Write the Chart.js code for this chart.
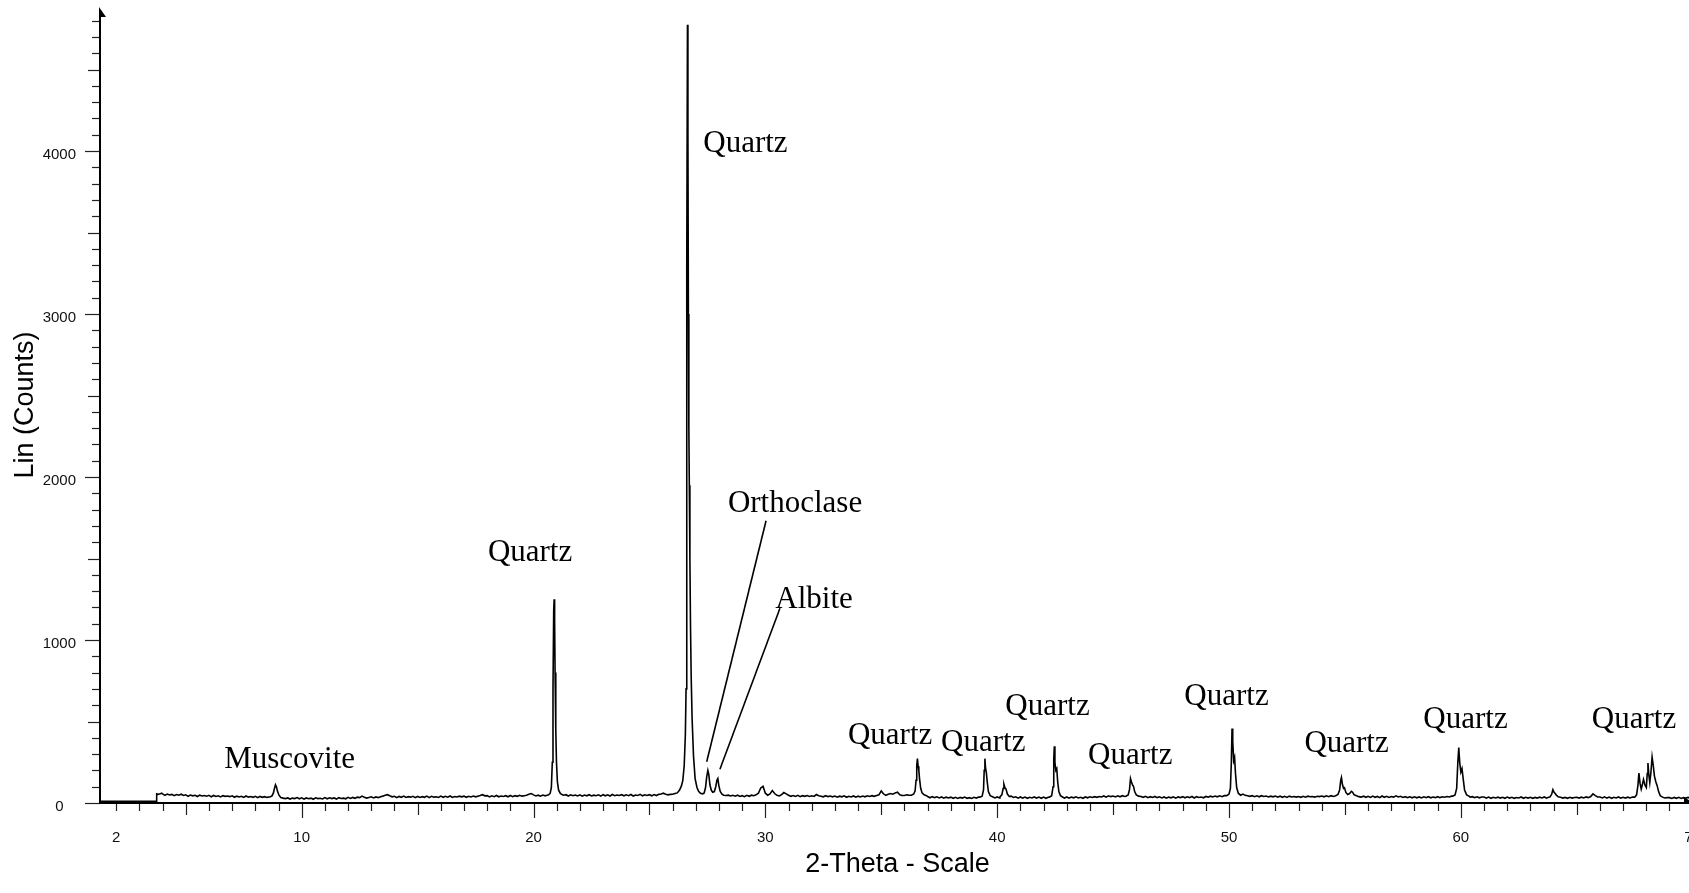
<!DOCTYPE html>
<html>
<head>
<meta charset="utf-8">
<title>XRD pattern</title>
<script src="https://cdn.jsdelivr.net/npm/chart.js@4.4.1/dist/chart.umd.min.js"></script>
<style>
  html, body { margin: 0; padding: 0; background: #ffffff; overflow: hidden; }
  #wrap { position: relative; width: 1710px; height: 893px; }
</style>
</head>
<body>
<div id="wrap"><canvas id="xrd"></canvas></div>
<script>
// ---- Scan data: 2-theta (deg) vs intensity (counts) ----
const BG_STEP = 0.1;

// slit shadow before the detector opens
const leadIn = [[1.3, 10], [3.72, 10], [3.745, 56], [3.8, 53], [3.9, 57], [3.96, 60]];

// background counts, one row per degree, 0.1 deg apart
const bg04to20 = [
  56,47,55,49,53,45,52,48,54,46,
  50,41,49,44,47,40,48,43,46,42,
  47,38,46,40,44,37,45,41,43,39,
  44,35,42,37,41,34,43,36,40,35,
  41,33,40,35,39,34,38,35,37,34,
  33,25,32,27,31,24,30,27,33,26,
  32,24,31,26,30,23,32,27,29,25,
  33,26,32,27,31,24,33,28,30,26,
  35,28,34,29,36,33,42,35,30,34,
  38,31,37,33,39,42,47,51,44,38,
  41,33,40,35,42,34,39,36,41,33,
  40,34,39,35,42,33,41,36,38,34,
  42,35,41,36,43,34,40,37,42,38,
  42,35,41,37,43,38,42,46,51,44,
  45,37,44,39,46,38,43,40,45,38,
  46,39,45,41,47,42,45,48,53,58
];
const bg20to37 = [
  50,43,48,42,49,44,48,52,60,90,
  62,52,49,44,51,43,50,45,49,43,
  50,42,49,44,51,43,48,45,50,42,
  51,44,50,43,52,45,49,46,51,44,
  50,45,52,43,49,46,53,44,50,46,
  51,44,52,46,53,55,60,54,50,53,
  54,58,62,70,90,150,300,200,90,70,
  60,55,52,50,55,90,60,50,48,55,
  60,52,46,41,48,43,47,42,48,40,
  45,39,47,41,48,45,50,60,92,102,
  60,48,56,76,58,47,43,51,64,56,
  48,41,46,40,47,39,45,41,46,40,
  44,40,52,45,42,38,45,39,43,38,
  43,36,42,38,44,35,41,37,43,36,
  42,37,43,38,44,40,45,41,46,50,
  74,56,47,53,58,54,62,66,51,46,
  46,50,48,52,58,70,150,150,60,45
];
const bg37to54 = [
  40,32,39,33,38,31,37,30,36,31,
  36,29,35,28,34,30,36,29,33,28,
  35,30,36,31,42,200,150,50,38,31,
  37,31,40,60,100,70,42,34,38,30,
  37,30,36,29,35,31,37,30,36,29,
  36,29,35,31,40,300,200,45,37,30,
  37,30,36,32,38,31,35,29,37,32,
  38,34,39,35,40,37,43,36,44,39,
  43,37,44,38,45,40,60,140,80,45,
  44,36,40,35,41,33,39,34,40,33,
  38,31,37,30,36,32,38,30,37,33,
  39,32,38,33,40,31,39,34,37,32,
  40,36,42,37,43,38,44,39,45,41,
  47,43,150,450,280,90,55,47,44,41,
  45,39,44,38,45,40,43,37,42,38,
  43,36,42,35,41,34,42,37,40,36,
  40,35,41,36,42,38,40,36,41,39
];
const bg54to70 = [
  43,38,44,39,45,40,46,80,150,95,
  55,50,60,72,55,42,39,36,42,35,
  41,34,42,35,40,33,43,35,41,34,
  40,36,44,37,41,34,39,33,38,32,
  38,32,37,31,38,33,39,32,37,33,
  39,33,38,35,40,37,42,50,100,340,
  210,100,50,41,36,39,33,38,32,37,
  37,30,36,29,35,31,36,30,35,29,
  36,30,35,29,34,31,37,29,35,30,
  35,29,34,30,36,31,37,30,36,60,
  80,55,42,35,30,34,29,35,30,34,
  35,30,36,31,37,33,40,56,45,37,
  37,31,38,30,36,29,35,31,37,30,
  35,30,36,31,37,34,45,120,100,140,
  100,240,130,280,160,100,45,36,31,34,
  33,28,34,29,35,28,33,30,34,29
];
const tailOut = [[70.0, 33], [70.1, 30]];

// reflections, sampled finer: [2-theta, counts]
const muscovitePeak = [[8.55,36],[8.65,38],[8.72,44],[8.78,62],[8.83,92],[8.87,112],[8.91,100],[8.96,70],[9.02,48],[9.1,34],[9.2,30]];
const quartz100Peak = [[20.55,46],[20.65,50],[20.72,60],[20.77,95],[20.81,250],[20.84,700],[20.87,1180],[20.89,1250],[20.91,1120],[20.93,800],[20.96,450],[20.99,250],[21.03,130],[21.08,80],[21.15,60],[21.22,52],[21.3,48]];
const quartz101Peak = [[26.1,58],[26.2,62],[26.3,80],[26.38,105],[26.44,139],[26.5,230],[26.55,420],[26.58,700],[26.6,1500],[26.62,3300],[26.64,4775],[26.66,4100],[26.68,3000],[26.7,2300],[26.72,1950],[26.745,1500],[26.77,1100],[26.8,780],[26.84,520],[26.9,290],[26.97,150],[27.05,95],[27.12,72],[27.2,60],[27.3,56]];
const feldsparPeaks = [[27.36,62],[27.42,95],[27.47,160],[27.52,200],[27.56,175],[27.61,110],[27.67,78],[27.73,66],[27.8,70],[27.86,100],[27.91,140],[27.95,150],[27.99,110],[28.05,72],[28.12,56],[28.2,48],[28.3,46]];
const quartz110Peak = [[36.3,48],[36.4,55],[36.46,75],[36.5,140],[36.53,230],[36.56,272],[36.59,225],[36.62,200],[36.65,150],[36.7,90],[36.76,62],[36.85,50],[36.95,45]];
const quartz102Peak = [[39.25,36],[39.35,42],[39.41,80],[39.44,200],[39.47,272],[39.5,210],[39.53,190],[39.57,130],[39.62,70],[39.7,45],[39.8,38]];
const quartz111Peak = [[40.12,38],[40.2,50],[40.26,90],[40.29,115],[40.33,95],[40.38,85],[40.44,55],[40.52,40]];
const quartz200Peak = [[42.25,36],[42.35,45],[42.41,100],[42.44,270],[42.465,348],[42.49,250],[42.53,200],[42.57,211],[42.61,130],[42.66,70],[42.73,45],[42.82,37]];
const quartz201Peak = [[45.55,42],[45.65,50],[45.71,85],[45.75,150],[45.79,130],[45.84,110],[45.88,102],[45.93,70],[46.0,50],[46.1,42]];
const quartz112Peak = [[49.9,45],[50.0,55],[50.06,90],[50.1,250],[50.13,457],[50.16,380],[50.2,260],[50.24,280],[50.28,180],[50.33,95],[50.4,60],[50.5,48]];
const quartz202Peak = [[54.6,45],[54.7,52],[54.77,80],[54.82,140],[54.85,156],[54.89,115],[54.94,90],[54.98,94],[55.04,65],[55.12,52],[55.2,58],[55.28,72],[55.33,66],[55.4,50],[55.5,44]];
const quartz211Peak = [[59.65,42],[59.75,50],[59.82,90],[59.87,250],[59.91,340],[59.95,250],[60.0,190],[60.05,211],[60.1,150],[60.16,80],[60.25,50],[60.35,42]];
const quartz113Peak = [[63.85,38],[63.92,55],[63.97,82],[64.02,65],[64.07,58],[64.12,48],[64.2,38]];
const quartz212Peaks = [[67.5,36],[67.58,50],[67.64,110],[67.68,184],[67.73,120],[67.78,85],[67.84,120],[67.88,145],[67.94,110],[68.0,95],[68.04,180],[68.07,245],[68.11,170],[68.15,125],[68.2,190],[68.25,282],[68.3,230],[68.35,165],[68.41,130],[68.47,105],[68.53,70],[68.6,45],[68.7,36]];

// axis tick labels
const xLabelValues = [2, 10, 20, 30, 40, 50, 60, 70];
const yLabelValues = [0, 1000, 2000, 3000, 4000];

// phase labels: text, anchor [2-theta, counts] (centre / baseline)
const phaseLabels = [
  { text: 'Muscovite',  at: [9.48, 215] },
  { text: 'Quartz',     at: [19.85, 1485] },
  { text: 'Quartz',     at: [29.14, 3994] },
  { text: 'Orthoclase', at: [31.28, 1786] },
  { text: 'Albite',     at: [32.10, 1196] },
  { text: 'Quartz',     at: [35.38, 362] },
  { text: 'Quartz',     at: [39.40, 319] },
  { text: 'Quartz',     at: [42.17, 540] },
  { text: 'Quartz',     at: [45.74, 239] },
  { text: 'Quartz',     at: [49.89, 601] },
  { text: 'Quartz',     at: [55.07, 313] },
  { text: 'Quartz',     at: [60.20, 463] },
  { text: 'Quartz',     at: [67.47, 463] }
];
const leaderLines = [
  { from: [30.03, 1732], to: [27.47, 253] },
  { from: [30.63, 1195], to: [28.04, 207] }
];

// ---- assemble the scan ----
const peakSegments = [muscovitePeak, quartz100Peak, quartz101Peak, feldsparPeaks, quartz110Peak,
  quartz102Peak, quartz111Peak, quartz200Peak, quartz201Peak, quartz112Peak, quartz202Peak,
  quartz211Peak, quartz113Peak, quartz212Peaks];

function rowsToPoints(start, values) {
  return values.map((c, i) => ({ x: Math.round((start + i * BG_STEP) * 100) / 100, y: c }));
}
const background = [
  ...rowsToPoints(4, bg04to20), ...rowsToPoints(20, bg20to37),
  ...rowsToPoints(37, bg37to54), ...rowsToPoints(54, bg54to70)
];
const insidePeak = p => peakSegments.some(seg => p.x >= seg[0][0] && p.x <= seg[seg.length - 1][0]);
const scan = [
  ...leadIn.map(([x, y]) => ({ x, y })),
  ...background.filter(p => !insidePeak(p)),
  ...peakSegments.flat().map(([x, y]) => ({ x, y })),
  ...tailOut.map(([x, y]) => ({ x, y }))
].sort((a, b) => a.x - b.x);

// ---- drawing helpers ----
const SANS = "'Liberation Sans', Arial, sans-serif";
const SERIF = "'Liberation Serif', 'Times New Roman', serif";

const axesWithArrows = {
  id: 'axesWithArrows',
  beforeDatasetsDraw(chart) {
    const { ctx, chartArea: a, scales: { x, y } } = chart;
    ctx.save();
    ctx.fillStyle = '#000';
    // tick marks: long every 10/1000, medium every 5/500, short otherwise
    ctx.lineWidth = 1.2;
    ctx.strokeStyle = '#222';
    for (let v = 0; v <= 4800; v += 100) {
      const len = v % 1000 === 0 ? 15 : (v % 500 === 0 ? 12 : 8);
      const py = Math.round(y.getPixelForValue(v)) + 0.5;
      ctx.beginPath(); ctx.moveTo(a.left - len, py); ctx.lineTo(a.left, py); ctx.stroke();
    }
    for (let d = 2; d <= 70; d++) {
      const len = d % 10 === 0 ? 15 : (d % 5 === 0 ? 12 : 8);
      const px = Math.round(x.getPixelForValue(d)) + 0.5;
      ctx.beginPath(); ctx.moveTo(px, a.bottom); ctx.lineTo(px, a.bottom + len); ctx.stroke();
    }
    // axis lines
    ctx.strokeStyle = '#000';
    ctx.lineWidth = 2;
    ctx.beginPath();
    ctx.moveTo(a.left, a.bottom); ctx.lineTo(a.left, a.top + 4);
    ctx.moveTo(a.left - 1, a.bottom); ctx.lineTo(a.right - 4, a.bottom);
    ctx.stroke();
    // half arrow heads
    ctx.beginPath();
    ctx.moveTo(a.left - 1, a.top); ctx.lineTo(a.left + 6, a.top + 10); ctx.lineTo(a.left - 1, a.top + 10);
    ctx.closePath(); ctx.fill();
    ctx.beginPath();
    ctx.moveTo(a.right, a.bottom + 1); ctx.lineTo(a.right - 11, a.bottom - 6); ctx.lineTo(a.right - 11, a.bottom + 1);
    ctx.closePath(); ctx.fill();
    ctx.restore();
  },
  afterDatasetsDraw(chart) {
    const { ctx, scales: { x, y } } = chart;
    ctx.save();
    ctx.strokeStyle = '#000';
    ctx.lineWidth = 1.6;
    leaderLines.forEach(l => {
      ctx.beginPath();
      ctx.moveTo(x.getPixelForValue(l.from[0]), y.getPixelForValue(l.from[1]));
      ctx.lineTo(x.getPixelForValue(l.to[0]), y.getPixelForValue(l.to[1]));
      ctx.stroke();
    });
    ctx.fillStyle = '#000';
    ctx.font = '31px ' + SERIF;
    ctx.textAlign = 'center';
    ctx.textBaseline = 'alphabetic';
    phaseLabels.forEach(lb => {
      ctx.fillText(lb.text, x.getPixelForValue(lb.at[0]), y.getPixelForValue(lb.at[1]));
    });
    ctx.restore();
  }
};

new Chart(document.getElementById('xrd'), {
  type: 'line',
  data: {
    datasets: [{
      data: scan,
      parsing: false,
      borderColor: '#000',
      borderWidth: 1.6,
      pointRadius: 0,
      tension: 0,
      fill: false
    }]
  },
  options: {
    responsive: true,
    maintainAspectRatio: false,
    animation: false,
    devicePixelRatio: 1,
    layout: { padding: { top: 7, right: 15, bottom: 0, left: 0 } },
    plugins: { legend: { display: false }, tooltip: { enabled: false } },
    scales: {
      x: {
        type: 'linear',
        min: 1.3,
        max: 70.1,
        grid: { display: false, drawTicks: false },
        border: { display: false },
        afterBuildTicks: s => { s.ticks = xLabelValues.map(v => ({ value: v })); },
        afterFit: s => { s.height = 90; s.paddingLeft = 0; s.paddingRight = 0; },
        ticks: {
          autoSkip: false, maxRotation: 0, minRotation: 0, padding: 26,
          color: '#111', font: { family: SANS, size: 15 },
          callback: v => String(v)
        },
        title: {
          display: true, text: '2-Theta - Scale', color: '#000',
          font: { family: SANS, size: 27 }, padding: { top: 0, bottom: 12 }
        }
      },
      y: {
        type: 'linear',
        min: 0,
        max: 4884,
        grid: { display: false, drawTicks: false },
        border: { display: false },
        afterBuildTicks: s => { s.ticks = yLabelValues.map(v => ({ value: v })); },
        afterFit: s => { s.width = 100; s.paddingTop = 0; s.paddingBottom = 0; },
        ticks: {
          autoSkip: false, crossAlign: 'center', padding: 24, labelOffset: 3.5,
          color: '#111', font: { family: SANS, size: 15 },
          callback: v => String(v)
        },
        title: {
          display: true, text: 'Lin (Counts)', color: '#000',
          font: { family: SANS, size: 27 }, padding: { top: 9, bottom: 0 }
        }
      }
    }
  },
  plugins: [axesWithArrows]
});
</script>
</body>
</html>
